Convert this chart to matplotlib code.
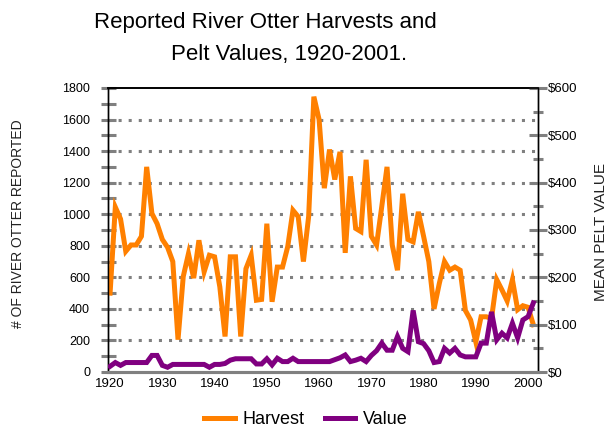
import numpy as np
import matplotlib
matplotlib.use("Agg")
import matplotlib.pyplot as plt
from matplotlib.ticker import MultipleLocator, FuncFormatter

plt.rcParams['font.family'] = ['Liberation Sans', 'DejaVu Sans']

# ==============================
# Data
# ==============================
years = list(range(1920, 2002))

harvest = [
    500, 1045, 970, 765, 805, 805, 860, 1300, 1005, 940,      # 1920s
    840, 790, 700, 205, 605, 750, 595, 835, 635, 740,         # 1930s
    730, 540, 225, 730, 730, 225, 655, 740, 455, 460,         # 1940s
    940, 445, 665, 665, 795, 1025, 985, 700, 985, 1745,       # 1950s
    1600, 1165, 1410, 1220, 1395, 755, 1240, 910, 890, 1345,  # 1960s
    860, 805, 1050, 1300, 805, 645, 1130, 840, 825, 1015,     # 1970s
    860, 700, 400, 560, 700, 645, 665, 645, 390, 330,         # 1980s
    190, 350, 350, 340, 585, 520, 450, 585, 395, 420,         # 1990s
    410, 300,                                                 # 2000-2001
]

pelt_value = [
    12, 20, 14, 20, 20, 20, 20, 20, 35, 35,
    14, 10, 16, 16, 16, 16, 16, 16, 16, 10,
    16, 16, 18, 25, 28, 28, 28, 28, 17, 17,
    28, 15, 29, 22, 22, 29, 22, 22, 22, 22,
    22, 22, 22, 26, 30, 36, 22, 25, 29, 22,
    35, 45, 61, 46, 46, 75, 50, 43, 130, 64,
    60, 45, 20, 22, 50, 40, 50, 36, 32, 32,
    32, 61, 61, 127, 68, 82, 72, 103, 72, 110,
    117, 146,
]

x_ticks = [1920, 1930, 1940, 1950, 1960, 1970, 1980, 1990, 2000]

ORANGE = '#FF8000'
PURPLE = '#800080'
GRAY = '#808080'

# ==============================
# Figure / axes
# ==============================
fig = plt.figure(figsize=(6.1, 4.3), dpi=100)
fig.patch.set_facecolor('white')
ax = fig.add_axes([108 / 610, 1 - 372 / 430, (537.5 - 108) / 610, (372 - 88) / 430])
ax2 = ax.twinx()

ax.set_xlim(1919.6, 2001.8)
ax.set_ylim(0, 1800)
ax2.set_ylim(0, 600)

# dotted horizontal guides
for v in np.arange(200, 1800, 200):
    ax.axhline(v, color=GRAY, lw=2.2, linestyle=(0, (1, 2.3)),
               dash_capstyle='butt', zorder=1)

l1, = ax.plot(years, harvest, color=ORANGE, lw=3.6,
              solid_joinstyle='miter', label='Harvest', zorder=3)
l2, = ax2.plot(years, pelt_value, color=PURPLE, lw=3.6,
               solid_joinstyle='miter', label='Value', zorder=3)

# left axis
ax.yaxis.set_major_locator(MultipleLocator(200))
ax.yaxis.set_minor_locator(MultipleLocator(100))
ax.tick_params(axis='y', which='both', direction='inout', length=10.8,
               width=2.2, color=GRAY, labelsize=9, pad=7.5)
ax.set_xticks(x_ticks)
ax.tick_params(axis='x', length=0, labelsize=9.5, pad=4)

# right axis
ax2.yaxis.set_major_locator(MultipleLocator(100))
ax2.yaxis.set_minor_locator(MultipleLocator(50))
ax2.yaxis.set_major_formatter(FuncFormatter(lambda v, p: f"${v:.0f}"))
ax2.tick_params(axis='y', which='major', direction='inout', length=13,
                width=2.2, color=GRAY, labelsize=9.5, pad=1)
ax2.tick_params(axis='y', which='minor', direction='inout', length=7,
                width=2.2, color=GRAY)

for a in (ax, ax2):
    a.spines['left'].set_color('black')
    a.spines['left'].set_linewidth(1)
    a.spines['right'].set_color('black')
    a.spines['right'].set_linewidth(1)
    a.spines['top'].set_color('black')
    a.spines['top'].set_linewidth(1.2)
    a.spines['bottom'].set_color(GRAY)
    a.spines['bottom'].set_linewidth(2.2)

# ==============================
# Text
# ==============================
fig.text(265 / 610, 1 - 28 / 430, "Reported River Otter Harvests and",
         ha='center', va='baseline', fontsize=16)
fig.text(289 / 610, 1 - 60 / 430, "Pelt Values, 1920-2001.",
         ha='center', va='baseline', fontsize=16)

fig.text(18 / 610, 1 - 224 / 430, "# OF RIVER OTTER REPORTED",
         rotation=90, ha='center', va='center', fontsize=10, color='#222222')
fig.text(601 / 610, 1 - 232 / 430, "MEAN PELT VALUE",
         rotation=90, ha='center', va='center', fontsize=11, color='#222222')

fig.legend(handles=[l1, l2], loc='center', bbox_to_anchor=(306 / 610, 1 - 420 / 430),
           ncol=2, frameon=False, fontsize=13, handlelength=1.7,
           handletextpad=0.45, columnspacing=1.1)

fig.savefig('out.png', dpi=100)
